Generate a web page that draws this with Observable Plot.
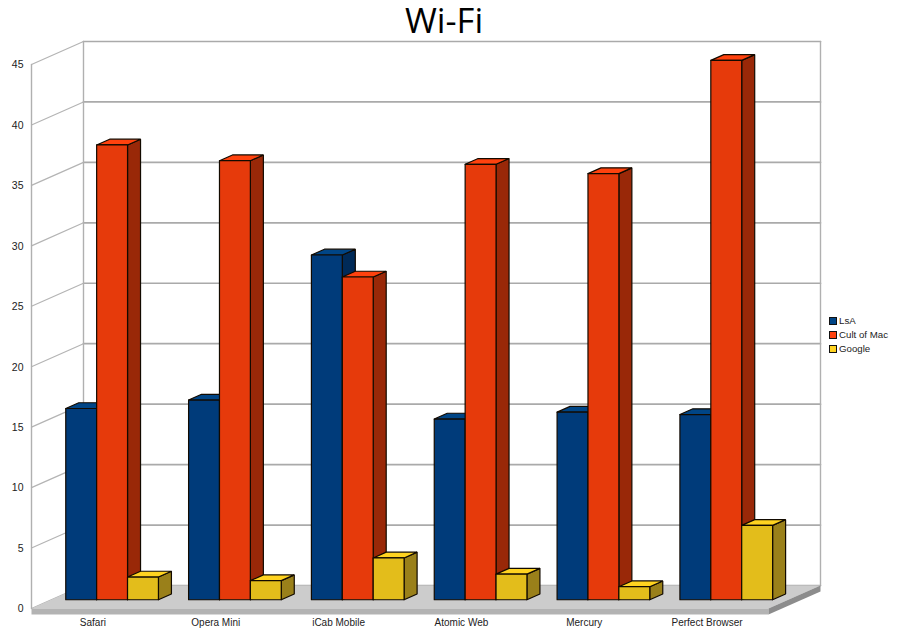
<!DOCTYPE html>
<html><head><meta charset="utf-8">
<script src="https://cdn.jsdelivr.net/npm/d3@7"></script>
<script src="https://cdn.jsdelivr.net/npm/@observablehq/plot@0.6"></script>
<style>
html,body{margin:0;padding:0;background:#fff;width:900px;height:641px;overflow:hidden;position:relative}
#title{height:40px;text-align:center;font:34.5px/40px "Open Sans",sans-serif;color:#000;width:888px;overflow:visible;white-space:nowrap}
#legend{position:absolute;left:829px;top:314px;font:9.7px/14px "Liberation Sans",Arial,sans-serif;color:#222}
#legend div{display:flex;align-items:center;height:14px}
#legend i{display:inline-block;box-sizing:border-box;width:7.5px;height:7.5px;border:1px solid #111;margin-right:2.5px}
svg{display:block;overflow:visible}
</style></head><body>
<div id="title">Wi-Fi</div>
<div id="chart"></div>
<div id="legend"></div>
<script>
const categories = ["Safari","Opera Mini","iCab Mobile","Atomic Web","Mercury","Perfect Browser"];
const seriesNames = ["LsA","Cult of Mac","Google"];
const lsa = [15.82,16.52,28.52,14.95,15.52,15.32];
const cultOfMac = [37.62,36.32,26.7,36.02,35.25,44.62];
const google = [1.88,1.58,3.46,2.12,1.08,6.15];
const yTicks = [0,5,10,15,20,25,30,35,40,45];
const frontColors = ["#003b7a","#e63a0b","#e3bd1b"];
const topColors = ["#004586","#ff420e","#ffd320"];
const sideColors = ["#002a58","#992808","#9a801a"];

// projection of (group, value, depth) into the flat x/y data space
const depthX = 0.4233, depthY = 1.904;
const P = (g, v, d) => ({x: g + d * depthX, y: v + d * depthY});
const poly = (id, fill, pts) => pts.map(p => ({id, fill, x: p.x, y: p.y}));

const nGroups = categories.length;
const values = [lsa, cultOfMac, google];
const barW = 0.2515, pad = 0.118, dFront = 0.38, dBack = 0.63;

const floorThick = 0.5;
const floorTop = poly("ft","#cccccc",[P(0,0,0),P(0,0,1),P(nGroups,0,1),P(nGroups,0,0)]);
const floorFront = poly("ff","#b3b3b3",[P(0,0,0),P(nGroups,0,0),P(nGroups,-floorThick,0),P(0,-floorThick,0)]);
const floorSide = poly("fs","#8c8c8c",[P(nGroups,0,0),P(nGroups,0,1),P(nGroups,-floorThick,1),P(nGroups,-floorThick,0)]);

const bars = [];
categories.forEach((c, g) => {
  values.forEach((vals, s) => {
    const v = vals[g];
    const x0 = g + pad + s * barW, x1 = x0 + barW;
    const close = a => a.concat([a[0]]);
    bars.push(...poly(`side${g}${s}`, sideColors[s], close([P(x1,0,dFront),P(x1,0,dBack),P(x1,v,dBack),P(x1,v,dFront)])));
    bars.push(...poly(`top${g}${s}`, topColors[s], close([P(x0,v,dFront),P(x0,v,dBack),P(x1,v,dBack),P(x1,v,dFront)])));
    bars.push(...poly(`front${g}${s}`, frontColors[s], close([P(x0,0,dFront),P(x0,v,dFront),P(x1,v,dFront),P(x1,0,dFront)])));
  });
});

const backGrid = yTicks.flatMap(t => [{...P(0,t,1),id:t},{...P(nGroups,t,1),id:t}]);
const sideGrid = yTicks.flatMap(t => [{...P(0,t,0),id:t},{...P(0,t,1),id:t}]);
const verts = [
  {...P(0,0,1),id:"a"},{...P(0,45,1),id:"a"},
  {...P(nGroups,0,1),id:"b"},{...P(nGroups,45,1),id:"b"},
  {...P(0,0,0),id:"c"},{...P(0,45,0),id:"c"}
];

const plot = Plot.plot({
  width: 900, height: 601,
  marginLeft: 31, marginRight: 132, marginTop: 24, marginBottom: 33,
  x: {domain: [0, nGroups]},
  y: {domain: [0, 45]},
  style: {background: "transparent", overflow: "visible"},
  marks: [
    Plot.line(backGrid, {x:"x", y:"y", z:"id", stroke:"#aaaaaa", strokeWidth:1.7}),
    Plot.line(sideGrid, {x:"x", y:"y", z:"id", stroke:"#b4b4b4", strokeWidth:1.2}),
    Plot.line(verts, {x:"x", y:"y", z:"id", stroke:"#b0b0b0", strokeWidth:1.4}),
    Plot.line(floorTop, {x:"x", y:"y", z:"id", fill:"fill"}),
    Plot.line(floorFront, {x:"x", y:"y", z:"id", fill:"fill"}),
    Plot.line(floorSide, {x:"x", y:"y", z:"id", fill:"fill"}),
    Plot.line(bars, {x:"x", y:"y", z:"id", fill:"fill", stroke:"#120a00", strokeWidth:1.2, strokeLinejoin:"miter"}),
    Plot.axisY({ticks: yTicks, tickSize: 0, tickPadding: 8, dy: 0.5, label: null, fontSize: 10.5, fontFamily: "Liberation Sans", color: "#222"}),
    Plot.axisX({ticks: categories.map((c, i) => i + 0.5), tickFormat: d => categories[d - 0.5], tickSize: 0, tickPadding: 10, label: null, fontSize: 10, fontFamily: "Liberation Sans", color: "#222"})
  ]
});
document.getElementById("chart").append(plot);

const legend = document.getElementById("legend");
seriesNames.forEach((n, i) => {
  const row = document.createElement("div");
  const sw = document.createElement("i");
  sw.style.background = topColors[i];
  row.append(sw, document.createTextNode(n));
  legend.append(row);
});
</script>
</body></html>
